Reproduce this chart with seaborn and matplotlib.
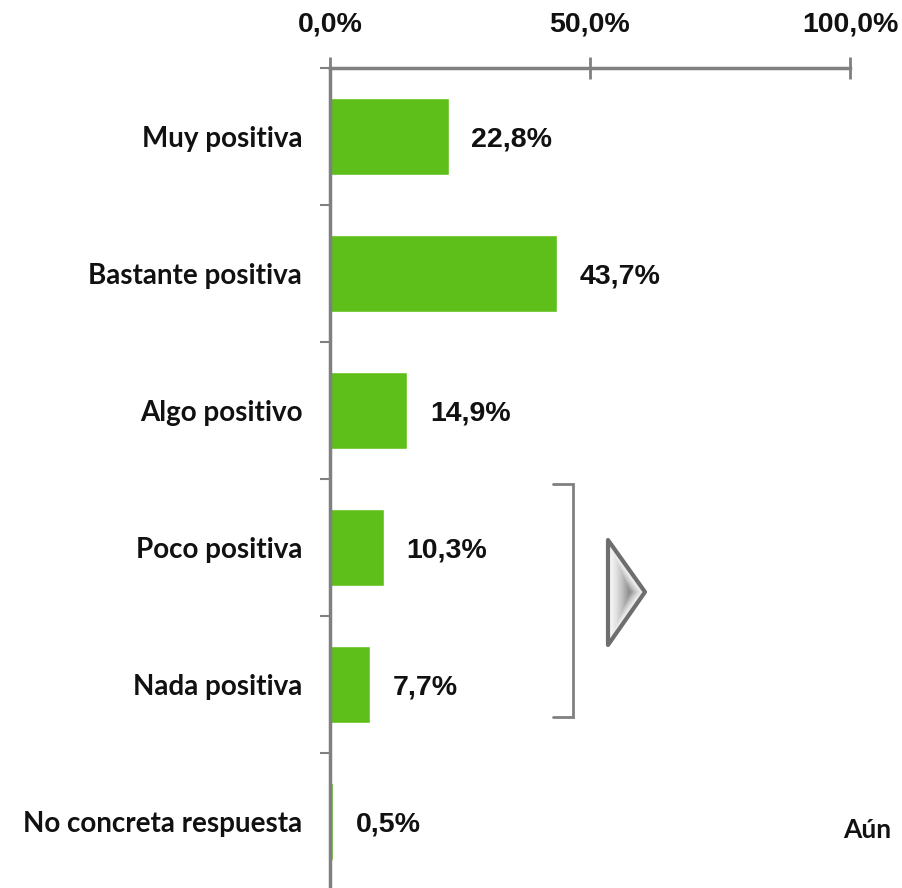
import numpy as np
import pandas as pd
import matplotlib.pyplot as plt
import seaborn as sns
from matplotlib.patches import Polygon
from matplotlib.ticker import FixedLocator

plt.switch_backend('Agg')

# data
categories = ["Muy positiva", "Bastante positiva", "Algo positivo",
              "Poco positiva", "Nada positiva", "No concreta respuesta"]
values = [22.8, 43.7, 14.9, 10.3, 7.7, 0.5]
value_labels = ["22,8%", "43,7%", "14,9%", "10,3%", "7,7%", "0,5%"]
x_ticks = [0, 50, 100]
x_tick_labels = ["0,0%", "50,0%", "100,0%"]

sns.set_theme(style="white")
plt.rcParams['font.family'] = ['Lato', 'DejaVu Sans']
plt.rcParams['font.weight'] = 'bold'
num_font = ['Liberation Sans', 'DejaVu Sans']

W, H = 903, 888
fig = plt.figure(figsize=(W / 100, H / 100), dpi=100)
ax = fig.add_axes([330 / W, (H - 890) / H, 520 / W, 822 / H])

df = pd.DataFrame({"cat": categories, "val": values})
sns.barplot(data=df, x="val", y="cat", orient="h", color="#5fbf1a",
            saturation=1, width=0.56, ax=ax)

grey = "#808080"
ax.set_xlim(0, 100)
ax.set_ylim(len(categories) - 0.5, -0.5)
ax.set_xlabel("")
ax.set_ylabel("")

# top axis
ax.xaxis.tick_top()
ax.set_xticks(x_ticks)
ax.set_xticklabels(x_tick_labels, fontsize=20.5, fontweight="bold",
                   family=num_font, color="#111111")
ax.tick_params(axis="x", direction="inout", length=16, width=2, color=grey,
               pad=14)

# left axis: labels without ticks, boundary ticks outward
ax.set_yticks(range(len(categories)))
ax.set_yticklabels(categories, fontsize=20, fontweight="bold",
                   color="#111111")
ax.tick_params(axis="y", which="major", length=0, pad=20)
ax.yaxis.set_minor_locator(FixedLocator(np.arange(-0.5, len(categories), 1)))
ax.tick_params(axis="y", which="minor", direction="out", length=7.5,
               width=1.5, color=grey, left=True)

for side in ["right", "bottom"]:
    ax.spines[side].set_visible(False)
for side in ["left", "top"]:
    ax.spines[side].set_color(grey)
    ax.spines[side].set_linewidth(2.5)

for i, (v, lab) in enumerate(zip(values, value_labels)):
    ax.text(v + 4.4, i + 0.02, lab, va="center", ha="left", fontsize=20.5,
            fontweight="bold", family=num_font, color="#111111")

# overlay in pixel coordinates for the bracket, arrow and cut-off note
ov = fig.add_axes([0, 0, 1, 1], zorder=5)
ov.set_xlim(0, W)
ov.set_ylim(H, 0)
ov.axis("off")
ov.patch.set_alpha(0)

ov.plot([553, 573, 573, 553], [484, 484, 717, 717], color=grey, lw=2,
        solid_joinstyle="miter")

tri = np.array([[608, 540], [645, 592], [608, 645]])
# shaded arrow: lighter at the edges, darker towards the middle
centre = np.array([630, 592])
for k, s in enumerate(np.linspace(1.0, 0.1, 12)):
    pts = centre + (tri - centre) * s
    g = 0.97 - 0.40 * (k / 11) ** 1.5
    ov.add_patch(Polygon(pts, closed=True, facecolor=(g, g, g),
                         edgecolor="none"))
ov.add_patch(Polygon(tri, closed=True, facecolor="none", edgecolor="#6e6e6e",
                     lw=3, joinstyle="round"))

ov.text(843, 830, "Aún", fontsize=19, fontweight="bold", va="center",
        ha="left", color="#111111")

fig.savefig("out.png", dpi=100)
